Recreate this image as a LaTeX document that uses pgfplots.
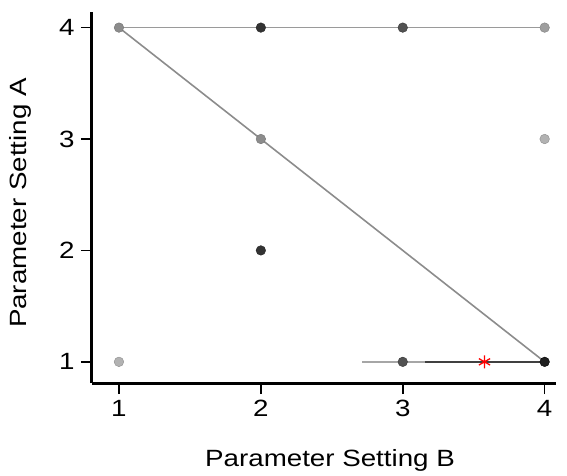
\documentclass[border=0pt]{standalone}
\usepackage{fontspec}
\setmainfont[FakeStretch=1.18]{Liberation Sans}
\usepackage{pgfplots}
\pgfplotsset{compat=1.18}
\definecolor{lngray}{HTML}{9A9A9A}
\definecolor{diaggray}{HTML}{8C8C8C}
\begin{document}
\begin{tikzpicture}
\begin{axis}[
    name=ax,
    scale only axis,
    width=464pt, height=371pt,
    xmin=0.81, xmax=4.08,
    ymin=0.81, ymax=4.14,
    axis lines=left,
    axis line style={line width=3pt, -},
    xtick={1,2,3,4}, ytick={1,2,3,4},
    tick style={black, line width=1.5pt},
    major tick length=11pt,
    tick align=outside,
    tick label style={font=\fontsize{23.5}{26}\selectfont},
    /pgf/number format/assume math mode=true,
    xticklabel style={yshift=-3pt},
    yticklabel style={xshift=-3pt},
    xlabel={Parameter Setting B},
    ylabel={Parameter Setting A},
    label style={font=\fontsize{23.5}{26}\selectfont},
    xlabel style={at={(axis description cs:0.513,-0.208)}, anchor=center},
    ylabel style={at={(axis description cs:-0.155,0.485)}, anchor=center},
    clip=false,
]
% lines
\addplot[lngray, line width=1.6pt] coordinates {(1,4)(4,4)};
\addplot[diaggray, line width=1.6pt] coordinates {(1,4)(2,3)(4,1)};
\addplot[gray!70, line width=1.6pt] coordinates {(2.715,1)(3.16,1)};
\addplot[black!75, line width=1.8pt] coordinates {(3.16,1)(4,1)};
% points
\addplot[only marks, mark=*, mark size=4.8pt, mark options={fill=black!45, draw=black!55}] coordinates {(1,4)(2,3)};
\addplot[only marks, mark=*, mark size=4.8pt, mark options={fill=black!30, draw=black!45}] coordinates {(1,1)(4,3)};
\addplot[only marks, mark=*, mark size=4.8pt, mark options={fill=black!38, draw=black!50}] coordinates {(4,4)};
\addplot[only marks, mark=*, mark size=4.8pt, mark options={fill=black!80, draw=black!85}] coordinates {(2,4)(2,2)};
\addplot[only marks, mark=*, mark size=4.8pt, mark options={fill=black!68, draw=black!78}] coordinates {(3,4)(3,1)};
\addplot[only marks, mark=*, mark size=4.8pt, mark options={fill=black!88, draw=black}] coordinates {(4,1)};
\addplot[only marks, mark=asterisk, mark size=6.5pt, red, line width=1.3pt] coordinates {(3.576,1)};
\end{axis}
\pgfresetboundingbox
\path[use as bounding box] ([shift={(-92pt,-92pt)}]ax.south west) rectangle ([shift={(11pt,12pt)}]ax.north east);
\end{tikzpicture}
\end{document}
